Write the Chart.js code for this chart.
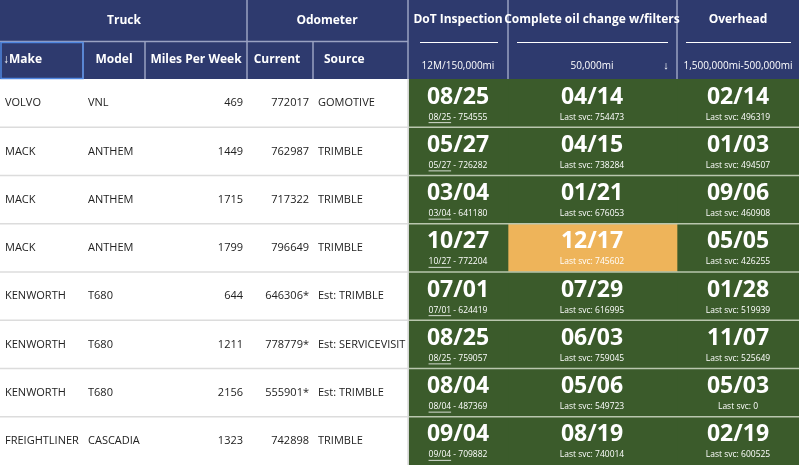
<!DOCTYPE html>
<html><head><meta charset="utf-8">
<script src="https://cdn.jsdelivr.net/npm/chart.js@4"></script>
<style>html,body{margin:0;padding:0;background:#fff}canvas{display:block}</style>
</head><body>
<canvas id="c" width="799" height="465"></canvas>
<script>
const makes=["VOLVO","MACK","MACK","MACK","KENWORTH","KENWORTH","KENWORTH","FREIGHTLINER"];
const models=["VNL","ANTHEM","ANTHEM","ANTHEM","T680","T680","T680","CASCADIA"];
const milesPerWeek=[469,1449,1715,1799,644,1211,2156,1323];
const odoCurrent=["772017","762987","717322","796649","646306*","778779*","555901*","742898"];
const odoSource=["GOMOTIVE","TRIMBLE","TRIMBLE","TRIMBLE","Est: TRIMBLE","Est: SERVICEVISIT","Est: TRIMBLE","TRIMBLE"];
const dotDue=["08/25","05/27","03/04","10/27","07/01","08/25","08/04","09/04"];
const dotLast=["08/25","05/27","03/04","10/27","07/01","08/25","08/04","09/04"];
const dotLastMiles=["754555","726282","641180","772204","624419","759057","487369","709882"];
const oilDue=["04/14","04/15","01/21","12/17","07/29","06/03","05/06","08/19"];
const oilLast=["754473","738284","676053","745602","616995","759045","549723","740014"];
const ovhDue=["02/14","01/03","09/06","05/05","01/28","11/07","05/03","02/19"];
const ovhLast=["496319","494507","460908","426255","519939","525649","0","600525"];
const oilWarn=[false,false,false,true,false,false,false,false];

const GREEN="#3b5b2b",ORANGE="#eeb45a",NAVY="#2e3a6e";
const FONT='"Open Sans", "Noto Sans", sans-serif';
const cols={dot:[409,508],oil:[508,677],ovh:[677,799]};
const rowIdx=makes.map((_,i)=>i);

const tablePlugin={id:'table',
 afterDatasetsDraw(chart){
  const ctx=chart.ctx,ys=chart.scales.y;
  const py=i=>ys.getPixelForValue(i);
  const half=(py(1)-py(0))/2;
  ctx.save();
  // header
  ctx.fillStyle=NAVY;ctx.fillRect(0,0,799,79);
  ctx.strokeStyle="#9aa2c2";ctx.lineWidth=1.5;
  [[247,0,79],[408,0,79],[508,0,79],[677,0,79]].forEach(([x,a,b])=>{ctx.beginPath();ctx.moveTo(x,a);ctx.lineTo(x,b);ctx.stroke();});
  ctx.beginPath();ctx.moveTo(0,41.5);ctx.lineTo(408,41.5);ctx.stroke();
  [83,145,313].forEach(x=>{ctx.beginPath();ctx.moveTo(x,42);ctx.lineTo(x,79);ctx.stroke();});
  ctx.strokeStyle="#4f86e0";ctx.lineWidth=1.5;ctx.strokeRect(1,42.5,82,36);
  ctx.strokeStyle="#ffffff";ctx.lineWidth=1.2;
  [[420,498],[517,668],[686,791]].forEach(([a,b])=>{ctx.beginPath();ctx.moveTo(a,42.5);ctx.lineTo(b,42.5);ctx.stroke();});
  ctx.fillStyle="#fff";ctx.textBaseline="middle";
  ctx.font="bold 12px "+FONT;ctx.textAlign="center";
  ctx.fillText("Truck",124,21);ctx.fillText("Odometer",327,21);
  ctx.fillText("DoT Inspection",458,20);ctx.fillText("Complete oil change w/filters",592,20);ctx.fillText("Overhead",738,20);
  ctx.fillText("Model",114,60);ctx.fillText("Miles Per Week",196,60);ctx.fillText("Current",277,60);
  ctx.textAlign="left";ctx.fillText("↓Make",3,60);ctx.fillText("Source",324,60);
  ctx.font="10px "+FONT;ctx.textAlign="center";
  ctx.fillText("12M/150,000mi",458,66);ctx.fillText("50,000mi",592,66);ctx.fillText("1,500,000mi-500,000mi",738,66);
  ctx.font="bold 11px "+FONT;ctx.fillText("↓",666,66);
  // row separators
  for(let i=0;i<makes.length;i++){
   const yb=py(i)+half;
   if(i<makes.length-1){
    ctx.strokeStyle="#dcdcdc";ctx.lineWidth=1.5;ctx.beginPath();ctx.moveTo(0,yb);ctx.lineTo(408,yb);ctx.stroke();
    ctx.strokeStyle="#b9c6ae";ctx.beginPath();ctx.moveTo(409,yb);ctx.lineTo(799,yb);ctx.stroke();
   }
  }
  ctx.strokeStyle="#dcdcdc";ctx.lineWidth=1.5;ctx.beginPath();ctx.moveTo(408,79);ctx.lineTo(408,465);ctx.stroke();
  // body text
  for(let i=0;i<makes.length;i++){
   const y=py(i);
   ctx.fillStyle="#222";ctx.font="11px "+FONT;ctx.textBaseline="middle";
   ctx.textAlign="left";ctx.fillText(makes[i],5,y);ctx.fillText(models[i],88,y);ctx.fillText(odoSource[i],318,y);
   ctx.textAlign="right";ctx.fillText(String(milesPerWeek[i]),243,y);ctx.fillText(odoCurrent[i],309,y);
   ctx.fillStyle="#fff";ctx.textAlign="center";
   ctx.font="bold 23px "+FONT;
   ctx.fillText(dotDue[i],458,y-6);ctx.fillText(oilDue[i],592,y-6);ctx.fillText(ovhDue[i],738,y-6);
   ctx.font="8.5px "+FONT;
   const sub=" - "+dotLastMiles[i];
   const w1=ctx.measureText(dotLast[i]).width,w2=ctx.measureText(sub).width;
   const x0=458-(w1+w2)/2;ctx.textAlign="left";
   ctx.fillText(dotLast[i],x0,y+14);ctx.fillText(sub,x0+w1,y+14);
   ctx.strokeStyle="#fff";ctx.lineWidth=0.8;ctx.beginPath();ctx.moveTo(x0,y+19.5);ctx.lineTo(x0+w1,y+19.5);ctx.stroke();
   ctx.textAlign="center";
   ctx.fillText("Last svc: "+oilLast[i],592,y+14);ctx.fillText("Last svc: "+ovhLast[i],738,y+14);
  }
  ctx.restore();
 }};

new Chart(document.getElementById('c'),{
 type:'bar',
 data:{labels:rowIdx,datasets:[
  {label:'DoT',data:rowIdx.map(()=>cols.dot),backgroundColor:GREEN,grouped:false,barPercentage:1,categoryPercentage:1,borderWidth:0},
  {label:'Oil',data:rowIdx.map(()=>cols.oil),backgroundColor:oilWarn.map(w=>w?ORANGE:GREEN),grouped:false,barPercentage:1,categoryPercentage:1,borderWidth:0},
  {label:'Overhead',data:rowIdx.map(()=>cols.ovh),backgroundColor:GREEN,grouped:false,barPercentage:1,categoryPercentage:1,borderWidth:0}
 ]},
 options:{indexAxis:'y',responsive:false,animation:false,
  layout:{padding:{top:79,left:0,right:0,bottom:0}},
  plugins:{legend:{display:false},tooltip:{enabled:false}},
  scales:{x:{type:'linear',min:0,max:799,display:false},y:{type:'category',display:false,offset:true}}},
 plugins:[tablePlugin]
});
</script>
</body></html>
